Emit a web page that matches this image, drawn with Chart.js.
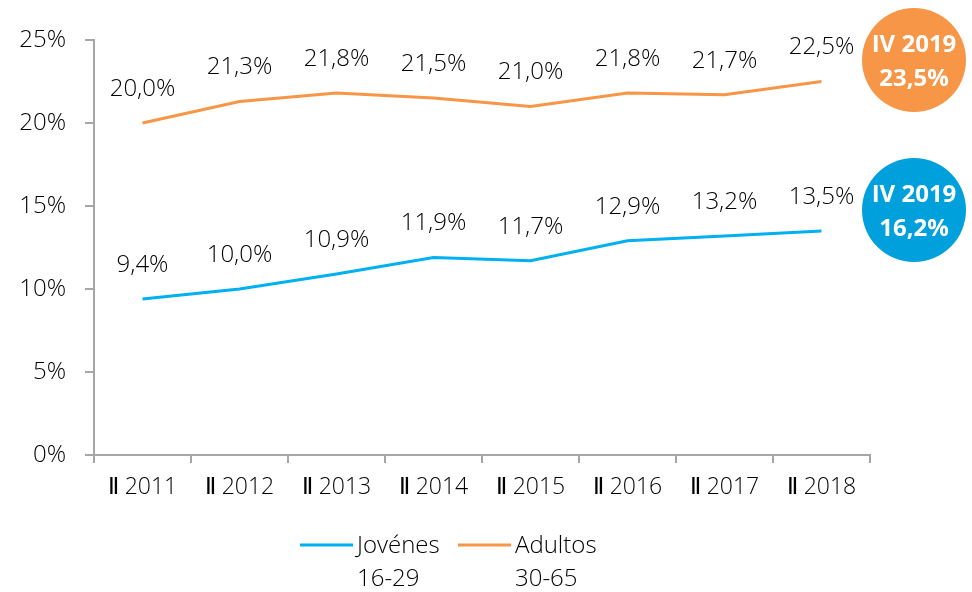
<!DOCTYPE html>
<html>
<head>
<meta charset="utf-8">
<script src="https://cdn.jsdelivr.net/npm/chart.js@4"></script>
<style>
  html, body { margin:0; padding:0; background:#fff; }
  #wrap { width:972px; height:592px; }
</style>
</head>
<body>
<div id="wrap"><canvas id="c" width="972" height="592"></canvas></div>
<script>
const categories = ["Ⅱ 2011","Ⅱ 2012","Ⅱ 2013","Ⅱ 2014","Ⅱ 2015","Ⅱ 2016","Ⅱ 2017","Ⅱ 2018"];
const jovenes = [9.4, 10.0, 10.9, 11.9, 11.7, 12.9, 13.2, 13.5];
const adultos = [20.0, 21.3, 21.8, 21.5, 21.0, 21.8, 21.7, 22.5];
const seriesNames = [["Jovénes","16-29"], ["Adultos","30-65"]];
const lastPeriod = "IV 2019";
const lastValues = [16.2, 23.5]; // jovenes, adultos

const BLUE = "#00B0F0", ORANGE = "#F79646";
const CIRCLE_BLUE = "#00A0DC";
const FONT = "'Open Sans', sans-serif";
const TXT = "#000000";
const AXIS = "#A6A6A6";

function pct(v){ return v.toFixed(1).replace(".", ",") + "%"; }

// value labels above each point
const valueLabels = {
  id:"valueLabels",
  afterDatasetsDraw(chart){
    const ctx = chart.ctx;
    ctx.save();
    ctx.font = "300 24px " + FONT;
    ctx.fillStyle = TXT;
    ctx.textAlign = "center";
    ctx.textBaseline = "middle";
    chart.data.datasets.forEach((ds, i)=>{
      chart.getDatasetMeta(i).data.forEach((pt, j)=>{
        ctx.fillText(pct(ds.data[j]), pt.x, pt.y - 34);
      });
    });
    ctx.restore();
  }
};

// circles on the right + custom legend
const extras = {
  id:"extras",
  afterDraw(chart){
    const ctx = chart.ctx;
    const a = chart.chartArea;
    const cx = a.right + 44;
    const circles = [
      {y:60, color:ORANGE, v:lastValues[1]},
      {y:210, color:CIRCLE_BLUE, v:lastValues[0]}
    ];
    ctx.save();
    circles.forEach(c=>{
      ctx.beginPath();
      ctx.arc(cx, c.y, 52, 0, Math.PI*2);
      ctx.fillStyle = c.color;
      ctx.fill();
      ctx.fillStyle = "#fff";
      ctx.font = "bold 24px " + FONT;
      ctx.textAlign = "center";
      ctx.textBaseline = "middle";
      ctx.fillText(lastPeriod, cx, c.y - 15);
      ctx.fillText(pct(c.v), cx, c.y + 19);
    });

    // legend
    const items = [
      {x:300, color:BLUE, text:seriesNames[0]},
      {x:458, color:ORANGE, text:seriesNames[1]}
    ];
    ctx.font = "300 24px " + FONT;
    ctx.textAlign = "left";
    ctx.textBaseline = "middle";
    items.forEach(it=>{
      ctx.strokeStyle = it.color;
      ctx.lineWidth = 3;
      ctx.beginPath();
      ctx.moveTo(it.x, 545);
      ctx.lineTo(it.x + 53, 545);
      ctx.stroke();
      ctx.fillStyle = TXT;
      ctx.fillText(it.text[0], it.x + 57, 546);
      ctx.fillText(it.text[1], it.x + 57, 579);
    });
    ctx.restore();
  }
};

new Chart(document.getElementById("c"), {
  type:"line",
  data:{
    labels:categories,
    datasets:[
      {label:seriesNames[0].join(" "), data:jovenes, borderColor:BLUE, backgroundColor:BLUE, borderWidth:3, pointRadius:0, tension:0},
      {label:seriesNames[1].join(" "), data:adultos, borderColor:ORANGE, backgroundColor:ORANGE, borderWidth:3, pointRadius:0, tension:0}
    ]
  },
  options:{
    responsive:false,
    animation:false,
    layout:{padding:{top:40, right:102, bottom:77, left:0}},
    plugins:{legend:{display:false}, tooltip:{enabled:false}},
    scales:{
      x:{
        offset:true,
        grid:{display:true, offset:true, drawOnChartArea:false, drawTicks:true, tickLength:8, color:AXIS, lineWidth:2},
        border:{display:true, color:AXIS, width:2},
        ticks:{color:TXT, font:{family:FONT, size:23, weight:300}, padding:11, maxRotation:0},
        afterFit(s){ s.height = 60; }
      },
      y:{
        min:0, max:25,
        grid:{display:true, drawOnChartArea:false, drawTicks:true, tickLength:9, color:AXIS, lineWidth:2},
        border:{display:true, color:AXIS, width:2},
        ticks:{stepSize:5, color:TXT, font:{family:FONT, size:24, weight:300}, padding:19, callback:v=>v+"%"},
        afterFit(s){ s.width = 94; }
      }
    }
  },
  plugins:[valueLabels, extras]
});
</script>
</body>
</html>
